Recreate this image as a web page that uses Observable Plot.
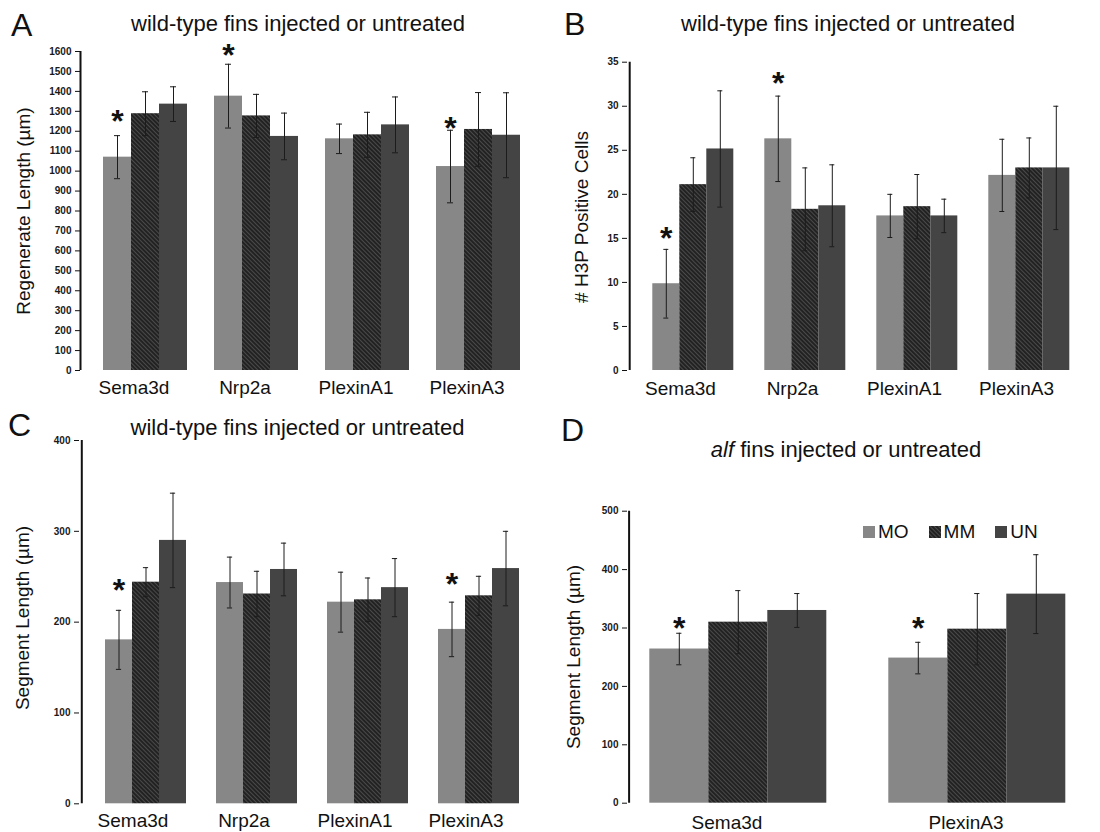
<!DOCTYPE html>
<html><head><meta charset="utf-8">
<script src="https://cdn.jsdelivr.net/npm/d3@7"></script>
<script src="https://cdn.jsdelivr.net/npm/@observablehq/plot@0.6"></script>
<style>
body{margin:0;background:#fff;font-family:"Liberation Sans",Arial,sans-serif;}
#root{position:relative;width:1100px;height:832px;overflow:hidden;background:#fff;}
.abs{position:absolute;line-height:1;white-space:nowrap;color:#111;}
.ylab{transform:translate(-50%,-50%) rotate(-90deg);transform-origin:center;}
svg{position:absolute;}
.leg{display:flex;align-items:center;gap:0;font-size:19px;}
</style></head><body><div id="root"></div>
<script>
// ---------- data ----------
const series = ["MO", "MM", "UN"];
const genesWT = ["Sema3d", "Nrp2a", "PlexinA1", "PlexinA3"];
const genesAlf = ["Sema3d", "PlexinA3"];

// Panel A: regenerate length (µm), order per gene: MO, MM, UN
const regenMean = [1070, 1288, 1336, 1376, 1277, 1174, 1162, 1182, 1232, 1023, 1209, 1180];
const regenErr  = [108, 110, 87, 160, 108, 117, 74, 113, 140, 182, 185, 213];
const regenStar = [1289, null, null, 1620, null, null, null, null, null, 1254, null, null];
const regenTicks = [0,100,200,300,400,500,600,700,800,900,1000,1100,1200,1300,1400,1500,1600];

// Panel B: # H3P positive cells
const h3pMean = [9.85, 21.1, 25.15, 26.3, 18.3, 18.7, 17.55, 18.6, 17.55, 22.15, 23.0, 23.0];
const h3pErr  = [3.9, 3.05, 6.6, 4.85, 4.7, 4.65, 2.45, 3.65, 1.9, 4.1, 3.4, 7.0];
const h3pStar = [15.9, null, null, 33.5, null, null, null, null, null, null, null, null];
const h3pTicks = [0, 5, 10, 15, 20, 25, 30, 35];

// Panel C: wild-type segment length (µm)
const segWTMean = [180.5, 244, 290, 243.6, 231, 258, 222, 224.6, 238, 192, 229, 259];
const segWTErr  = [32.5, 16, 52, 28, 25, 29, 33, 24, 32, 30, 21.5, 41];
const segWTStar = [243, null, null, null, null, null, null, null, null, 250, null, null];
const segWTTicks = [0, 100, 200, 300, 400];

// Panel D: alf segment length (µm)
const segAlfMean = [264, 310, 330, 248.5, 298, 358];
const segAlfErr  = [27, 54, 29, 27, 61, 67.5];
const segAlfStar = [313, null, null, 313, null, null];
const segAlfTicks = [0, 100, 200, 300, 400, 500];

// ---------- helpers ----------
const FONT = '"Liberation Sans", Arial, Helvetica, sans-serif';
const seriesColors = id => ["#878787", `url(#hatch-${id})`, "#444444"];

function rowsOf(genes, mean, err, star) {
  return genes.flatMap((g, i) => series.map((s, j) => ({
    gene: g, series: s, mean: mean[i * 3 + j], err: err[i * 3 + j], star: star[i * 3 + j]
  })));
}

function addHatch(svg, id) {
  const ns = "http://www.w3.org/2000/svg";
  const defs = document.createElementNS(ns, "defs");
  defs.innerHTML = `<pattern id="hatch-${id}" patternUnits="userSpaceOnUse" width="3" height="3" patternTransform="rotate(-45)">
      <rect width="3" height="3" fill="#222222"></rect><rect width="1" height="3" fill="#4a4a4a"></rect></pattern>`;
  svg.insertBefore(defs, svg.firstChild);
}

function panel({id, rows, genes, yDomain, yTicks, L}) {
  const n = genes.length;
  const b = L.gap + 3 * L.barW;               // facet band width
  const p = (b / L.barW - 3) / 2;              // inner outer padding
  const capInset = (L.barW - 6) / 2;
  const width = L.width;
  const plot = Plot.plot({
    width, height: L.height,
    marginLeft: L.axisX, marginRight: width - (L.axisX + (n - 1) * L.step + b),
    marginTop: L.marginTop, marginBottom: L.height - L.zeroY,
    style: {fontFamily: FONT, fontSize: "10px", color: "#111", background: "transparent", overflow: "visible"},
    fx: {domain: genes, paddingInner: (L.step - b) / L.step, paddingOuter: 0, label: null},
    x: {domain: series, paddingInner: 0, paddingOuter: p, align: 1, axis: null},
    y: {domain: yDomain, label: null},
    color: {domain: series, range: seriesColors(id)},
    marks: [
      Plot.barY(rows, {fx: "gene", x: "series", y: "mean", fill: "series"}),
      Plot.ruleX(rows, {fx: "gene", x: "series", y1: d => d.mean - d.err, y2: d => d.mean + d.err, stroke: "#1c1c1c", strokeWidth: 1}),
      Plot.tickY(rows, {fx: "gene", x: "series", y: d => d.mean + d.err, stroke: "#1c1c1c", strokeWidth: 1, insetLeft: capInset, insetRight: capInset}),
      Plot.tickY(rows, {fx: "gene", x: "series", y: d => d.mean - d.err, stroke: "#1c1c1c", strokeWidth: 1, insetLeft: capInset, insetRight: capInset}),
      Plot.text(rows.filter(d => d.star != null), {fx: "gene", x: "series", y: "star", text: () => "*", fontSize: 32, fontWeight: "bold", fill: "#111", dy: 8}),
      // y axis line: drawn in the first facet at the left edge of the facet band
      Plot.ruleX([yDomain], {fx: () => genes[0], x: () => series[0], y1: d => d[0], y2: d => d[1],
        dx: -(L.gap + L.barW / 2), stroke: "#111", strokeWidth: 2}),
      Plot.axisY({ticks: yTicks, tickFormat: d => String(d), tickSize: 5, tickPadding: 4, fontSize: 10, fontWeight: "bold", label: null, stroke: "#111", fill: "#1a1a1a"}),
      Plot.axisFx({anchor: "bottom", tickSize: 0, tickPadding: L.tickPadding, fontSize: 19, label: null})
    ]
  });
  addHatch(plot, id);
  plot.style.left = L.left + "px";
  plot.style.top = L.top + "px";
  return plot;
}

const root = document.getElementById("root");

// panels
root.appendChild(panel({id: "A", rows: rowsOf(genesWT, regenMean, regenErr, regenStar), genes: genesWT,
  yDomain: [0, 1600], yTicks: regenTicks,
  L: {left: 0, top: 0, width: 550, height: 416, axisX: 79, gap: 23, barW: 28, step: 111.3, marginTop: 51, zeroY: 370, tickPadding: 10}}));
root.appendChild(panel({id: "B", rows: rowsOf(genesWT, h3pMean, h3pErr, h3pStar), genes: genesWT,
  yDomain: [0, 35], yTicks: h3pTicks,
  L: {left: 550, top: 0, width: 550, height: 416, axisX: 76.7, gap: 22.6, barW: 28, step: 112.2, marginTop: 61.7, zeroY: 370, tickPadding: 11}}));
root.appendChild(panel({id: "C", rows: rowsOf(genesWT, segWTMean, segWTErr, segWTStar), genes: genesWT,
  yDomain: [0, 400], yTicks: segWTTicks,
  L: {left: 0, top: 416, width: 550, height: 416, axisX: 79, gap: 23.3, barW: 27.8, step: 111.2, marginTop: 24, zeroY: 387.3, tickPadding: 10}}));
root.appendChild(panel({id: "D", rows: rowsOf(genesAlf, segAlfMean, segAlfErr, segAlfStar), genes: genesAlf,
  yDomain: [0, 500], yTicks: segAlfTicks,
  L: {left: 550, top: 416, width: 550, height: 416, axisX: 76.7, gap: 20.3, barW: 59.8, step: 239.7, marginTop: 94.7, zeroY: 386.7, tickPadding: 12}}));

// text overlays
function label(html, {x, baseline, size, anchor = "start"}) {
  const el = document.createElement("div");
  el.className = "abs";
  el.innerHTML = html;
  el.style.fontSize = size + "px";
  el.style.top = (baseline - 0.8465 * size) + "px";
  el.style.left = x + "px";
  if (anchor === "middle") el.style.transform = "translateX(-50%)";
  root.appendChild(el);
  return el;
}
function ylabel(text, cx, cy, size) {
  const el = document.createElement("div");
  el.className = "abs ylab";
  el.textContent = text;
  el.style.fontSize = size + "px";
  el.style.left = cx + "px";
  el.style.top = cy + "px";
  root.appendChild(el);
}

label("A", {x: 11, baseline: 36, size: 32});
label("B", {x: 564, baseline: 35.5, size: 32});
label("C", {x: 8, baseline: 436, size: 32});
label("D", {x: 561, baseline: 441, size: 32});

label("wild-type fins injected or untreated", {x: 298, baseline: 31.5, size: 22, anchor: "middle"});
label("wild-type fins injected or untreated", {x: 848, baseline: 31.5, size: 22, anchor: "middle"});
label("wild-type fins injected or untreated", {x: 297.5, baseline: 436, size: 22, anchor: "middle"});
label("<i>alf</i> fins injected or untreated", {x: 846, baseline: 458, size: 22, anchor: "middle"});

ylabel("Regenerate Length (µm)", 22.5, 211, 19);
ylabel("# H3P Positive Cells", 581, 216.5, 19);
ylabel("Segment Length (µm)", 22, 618, 19);
ylabel("Segment Length (µm)", 572.5, 656.5, 19);

// legend (panel D)
const leg = document.createElement("div");
leg.className = "abs leg";
leg.style.left = "863px";
leg.style.top = "522px";
const legColors = seriesColors("D");
series.forEach((s, i) => {
  const item = document.createElement("div");
  item.style.display = "flex";
  item.style.alignItems = "center";
  item.style.marginRight = i < 2 ? "20px" : "0";
  item.innerHTML = `<svg width="12" height="12" style="position:static;margin-right:3px"><rect width="12" height="12" fill="${legColors[i]}"></rect></svg><span>${s}</span>`;
  leg.appendChild(item);
});
root.appendChild(leg);
</script></body></html>
